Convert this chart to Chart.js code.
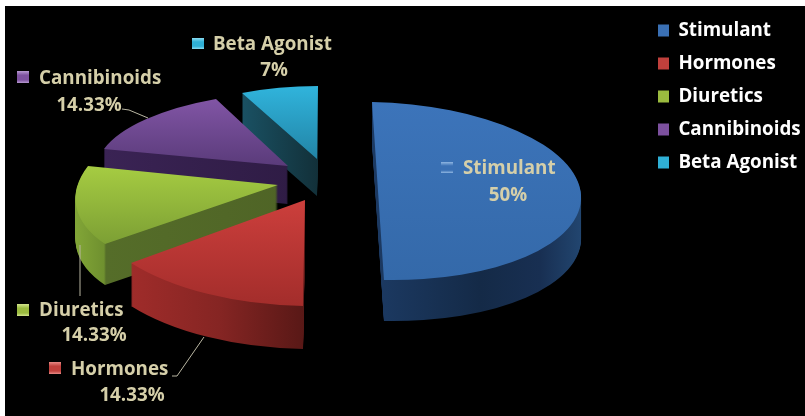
<!DOCTYPE html>
<html>
<head>
<meta charset="utf-8">
<style>
html,body{margin:0;padding:0;background:#fff;overflow:hidden}
#wrap{position:absolute;left:0;top:0;width:805px;height:416px}
canvas{filter:blur(0.5px)}
</style>
<script src="https://cdn.jsdelivr.net/npm/chart.js@4"></script>
</head>
<body>
<div id="wrap"><canvas id="c" width="805" height="416"></canvas></div>
<script>
const categories = ['Stimulant','Hormones','Diuretics','Cannibinoids','Beta Agonist'];
const shares = [50,14.33,14.33,14.33,7];
const baseColors = ['#3a70b4','#c0403c','#9bbb3f','#7d519f','#2fb0d6'];
const markerTops = ['#8fb6e2','#e88a86','#d3e58d','#b79ad2','#8adcf2'];

// Picture placement of each exploded wedge (the 3D view is a per-wedge affine view of the library's arc)
const wedgeViews = [
  {apex:[378,191],start:[372,102],mid:[581,195],depth:41},
  {apex:[305,200],start:[303,306],end:[131,263],depth:43},
  {apex:[278,185],start:[105,244],end:[88,166],depth:41},
  {apex:[288,166],start:[104,149],end:[216,99],depth:38},
  {apex:[317,159],start:[242,93],end:[318,86],depth:37}
];
const topShades = [
  ['#3c74ba',102,'#3469a9',280],
  ['#cc3f3c',200,'#a32d2b',306],
  ['#a6cc42',166,'#7c9f34',244],
  ['#8155a5',99,'#5a3b7a',166],
  ['#30b4dc',86,'#2284a6',159]
];
const sideShades = [
  [[372,'#1c3a63'],[480,'#142a47'],[540,'#182f52'],[582,'#224670']],
  [[130,'#a02c2a'],[220,'#852523'],[305,'#581816']],
  [[75,'#82a637'],[104,'#6f902f'],[106,'#556d29'],[285,'#4f6426']],
  [[104,'#3a2354'],[290,'#2f1c45']],
  [[242,'#1a5163'],[318,'#123039']]
];
const paintOrder = [4,3,2,1,0];

const labelPlaces = [
  {box:[441,162,12,11],text:[463,169],pct:[508,196]},
  {box:[49,362,12,12],text:[71,370],pct:[132,396]},
  {box:[17,304,12,12],text:[39,311],pct:[94,336]},
  {box:[17,71,12,12],text:[39,79],pct:[89,106]},
  {box:[192,38,12,11],text:[213,45],pct:[274,71]}
];
const leaderLines = [
  [[122,109],[129,110],[148,118]],
  [[80,245],[80,296]],
  [[172,376],[177,376],[204,337]]
];
const labelFont = 'bold 18.8px "Open Sans"';
const labelColor = '#d5cfa9';

const off = document.createElement('canvas');
off.width = 805; off.height = 416;
const octx = off.getContext('2d');

function matrixFor(arc, view){
  const a0 = arc.startAngle, a1 = arc.endAngle, am = (a0+a1)/2, R = arc.outerRadius;
  const half = (a1-a0)/2;
  const A = view.apex, S = view.start;
  const M = view.mid || [
    A[0] + (S[0]+view.end[0]-2*A[0])/(2*Math.cos(half)),
    A[1] + (S[1]+view.end[1]-2*A[1])/(2*Math.cos(half))
  ];
  const ux = R*Math.cos(a0), uy = R*Math.sin(a0), vx = R*Math.cos(am), vy = R*Math.sin(am);
  const Ux = S[0]-A[0], Uy = S[1]-A[1], Vx = M[0]-A[0], Vy = M[1]-A[1];
  const det = ux*vy - vx*uy;
  const a = (Ux*vy - Vx*uy)/det, c = (Vx*ux - Ux*vx)/det;
  const b = (Uy*vy - Vy*uy)/det, d = (Vy*ux - Uy*vx)/det;
  return {a,b,c,d,e:A[0]-a*arc.x-c*arc.y,f:A[1]-b*arc.x-d*arc.y};
}
function stampArc(arc, m, dy){
  octx.setTransform(m.a,m.b,m.c,m.d,m.e,m.f+dy);
  arc.draw(octx);
  octx.setTransform(1,0,0,1,0,0);
}
function flush(ctx, grad){
  octx.globalCompositeOperation = 'source-in';
  octx.fillStyle = grad;
  octx.fillRect(0,0,805,416);
  octx.globalCompositeOperation = 'source-over';
  ctx.drawImage(off,0,0);
  octx.clearRect(0,0,805,416);
}

const pie3d = {
  id:'pie3d',
  afterLayout(chart){
    chart.legend.left = 643.8;
    chart.legend.top = 7;
  },
  beforeDraw(chart){
    const ctx = chart.ctx;
    ctx.save();
    ctx.fillStyle = '#fff'; ctx.fillRect(0,0,805,416);
    ctx.fillStyle = '#000'; ctx.fillRect(5,6,800,410);
    ctx.restore();
  },
  beforeDatasetsDraw(chart){
    const ctx = chart.ctx, arcs = chart.getDatasetMeta(0).data;
    paintOrder.forEach(i=>{
      const arc = arcs[i], view = wedgeViews[i], m = matrixFor(arc,view);
      for(let d=view.depth;d>=1;d--) stampArc(arc,m,d);
      const x0 = sideShades[i][0][0], x1 = sideShades[i][sideShades[i].length-1][0];
      const sg = octx.createLinearGradient(x0,0,x1,0);
      sideShades[i].forEach(s=>sg.addColorStop((s[0]-x0)/(x1-x0),s[1]));
      flush(ctx,sg);
      stampArc(arc,m,0);
      const t = topShades[i];
      const tg = octx.createLinearGradient(0,t[1],0,t[3]);
      tg.addColorStop(0,t[0]); tg.addColorStop(1,t[2]);
      flush(ctx,tg);
    });
    return false;
  },
  afterDraw(chart){
    const ctx = chart.ctx;
    ctx.save();
    ctx.strokeStyle = '#b9b6a2'; ctx.lineWidth = 1;
    leaderLines.forEach(l=>{
      ctx.beginPath();
      l.forEach((p,i)=> i?ctx.lineTo(p[0],p[1]):ctx.moveTo(p[0],p[1]));
      ctx.stroke();
    });
    ctx.font = labelFont; ctx.textBaseline = 'middle';
    categories.forEach((name,i)=>{
      const p = labelPlaces[i];
      const g = ctx.createLinearGradient(0,p.box[1],0,p.box[1]+p.box[3]);
      g.addColorStop(0,markerTops[i]); g.addColorStop(0.35,baseColors[i]); g.addColorStop(0.75,baseColors[i]); g.addColorStop(1,markerTops[i]);
      ctx.fillStyle = g;
      ctx.fillRect(p.box[0],p.box[1],p.box[2],p.box[3]);
      ctx.fillStyle = labelColor;
      ctx.textAlign = 'left';
      ctx.fillText(name,p.text[0],p.text[1]);
      ctx.textAlign = 'center';
      ctx.fillText(shares[i]+'%',p.pct[0],p.pct[1]);
    });
    ctx.restore();
  }
};

new Chart(document.getElementById('c'),{
  type:'pie',
  data:{labels:categories,datasets:[{data:shares,backgroundColor:baseColors,borderWidth:0}]},
  options:{
    responsive:false,
    animation:false,
    layout:{padding:{top:6,right:5,left:5,bottom:0}},
    plugins:{
      tooltip:{enabled:false},
      legend:{
        position:'right',align:'start',
        labels:{color:'#ffffff',font:{family:'"Open Sans"',size:18.8,weight:'bold'},boxWidth:11,boxHeight:12,padding:14.2}
      }
    }
  },
  plugins:[pie3d]
});
</script>
</body>
</html>
